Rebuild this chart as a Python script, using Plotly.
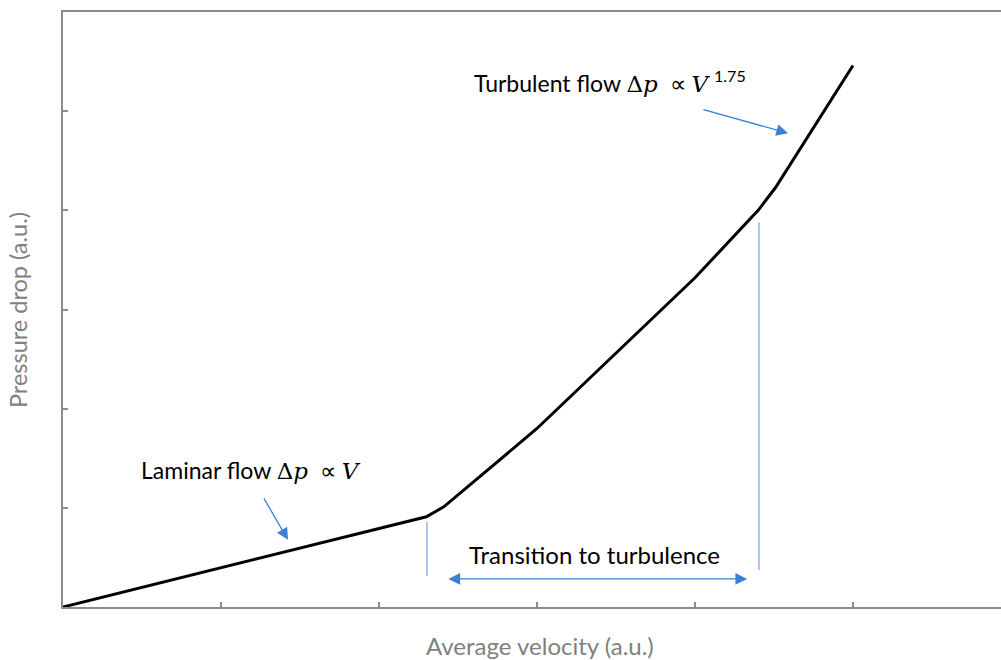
import plotly.graph_objects as go

# Data (arbitrary units)
velocity = [0, 2.30, 2.41, 3.0, 4.0, 4.40, 4.51, 5.0]
pressure = [0, 0.91, 1.01, 1.80, 3.32, 4.00, 4.23, 5.46]
x_ticks = [0, 1, 2, 3, 4, 5]
y_ticks = [0, 1, 2, 3, 4, 5, 6]

SANS = "Lato, 'Open Sans', sans-serif"
ARROW = "#3c7fd6"
VLINE = "#8db4e6"
AXIS = "#8c8c8c"
TITLE = "#808080"

fig = go.Figure()
fig.add_trace(go.Scatter(x=velocity, y=pressure, mode="lines",
                         line=dict(color="black", width=3), showlegend=False,
                         hoverinfo="skip"))

def mth(s, italic=True):
    st = "font-family:DejaVu Serif;" + ("font-style:italic;" if italic else "")
    return f'<span style="{st}">{s}</span>'

lam_text = "Laminar flow " + mth("Δ", False) + mth("p") + "  ∝ " + mth("V")
turb_text = ("Turbulent flow " + mth("Δ", False) + mth("p") + "  ∝ " + mth("V")
             + " <sup>1.75</sup>")

annotations = [
    dict(x=1.19, y=1.384, text=lam_text, showarrow=False, xanchor="center", yanchor="middle",
         font=dict(family=SANS, size=23, color="black")),
    dict(x=3.367, y=0.525, text="Transition to turbulence", showarrow=False, xanchor="center",
         yanchor="middle", font=dict(family=SANS, size=24, color="black")),
    dict(x=3.465, y=5.30, text=turb_text, showarrow=False, xanchor="center", yanchor="middle",
         font=dict(family=SANS, size=23, color="black")),
    # arrows
    dict(x=1.424, y=0.677, ax=1.266, ay=1.111, axref="x", ayref="y", xref="x", yref="y",
         text="", showarrow=True, arrowhead=2, arrowsize=1.8, arrowwidth=1.3, arrowcolor=ARROW),
    dict(x=4.589, y=4.778, ax=4.044, ay=5.02, axref="x", ayref="y", xref="x", yref="y",
         text="", showarrow=True, arrowhead=2, arrowsize=1.8, arrowwidth=1.3, arrowcolor=ARROW),
    dict(x=4.33, y=0.283, ax=2.43, ay=0.283, axref="x", ayref="y", xref="x", yref="y",
         text="", showarrow=True, arrowhead=2, startarrowhead=2, arrowside="end+start",
         arrowsize=1.8, startarrowsize=1.8, arrowwidth=1.3, arrowcolor=ARROW),
    # axis titles
    dict(xref="paper", yref="paper", x=0.5085, y=-0.064, text="Average velocity (a.u.)",
         showarrow=False, xanchor="center", yanchor="middle",
         font=dict(family=SANS, size=24, color=TITLE)),
    dict(xref="paper", yref="paper", x=-0.048, y=0.499, text="Pressure drop (a.u.)",
         showarrow=False, xanchor="center", yanchor="middle", textangle=-90,
         font=dict(family=SANS, size=23.5, color=TITLE)),
]

shapes = [
    dict(type="line", xref="x", yref="y", x0=2.304, x1=2.304, y0=0.313, y1=0.859,
         line=dict(color=VLINE, width=1.5)),
    dict(type="line", xref="x", yref="y", x0=4.405, x1=4.405, y0=0.374, y1=3.879,
         line=dict(color=VLINE, width=1.5)),
]

fig.update_layout(
    width=1001, height=660,
    margin=dict(l=63, r=0, t=12, b=53),
    plot_bgcolor="white", paper_bgcolor="white",
    annotations=annotations, shapes=shapes,
    xaxis=dict(range=[0, 5.937], tickvals=x_ticks, showticklabels=False, ticks="inside",
               ticklen=5, tickwidth=1.5, tickcolor=AXIS, showgrid=False, zeroline=False,
               showline=True, linecolor=AXIS, linewidth=2, mirror=True, fixedrange=True),
    yaxis=dict(range=[0, 6], tickvals=y_ticks, showticklabels=False, ticks="inside",
               ticklen=5, tickwidth=1.5, tickcolor=AXIS, showgrid=False, zeroline=False,
               showline=True, linecolor=AXIS, linewidth=2, mirror=False, fixedrange=True),
)

fig.write_html("out.html", config={"displayModeBar": False},
               post_script="document.body.style.margin='0';document.body.style.overflow='hidden';")
